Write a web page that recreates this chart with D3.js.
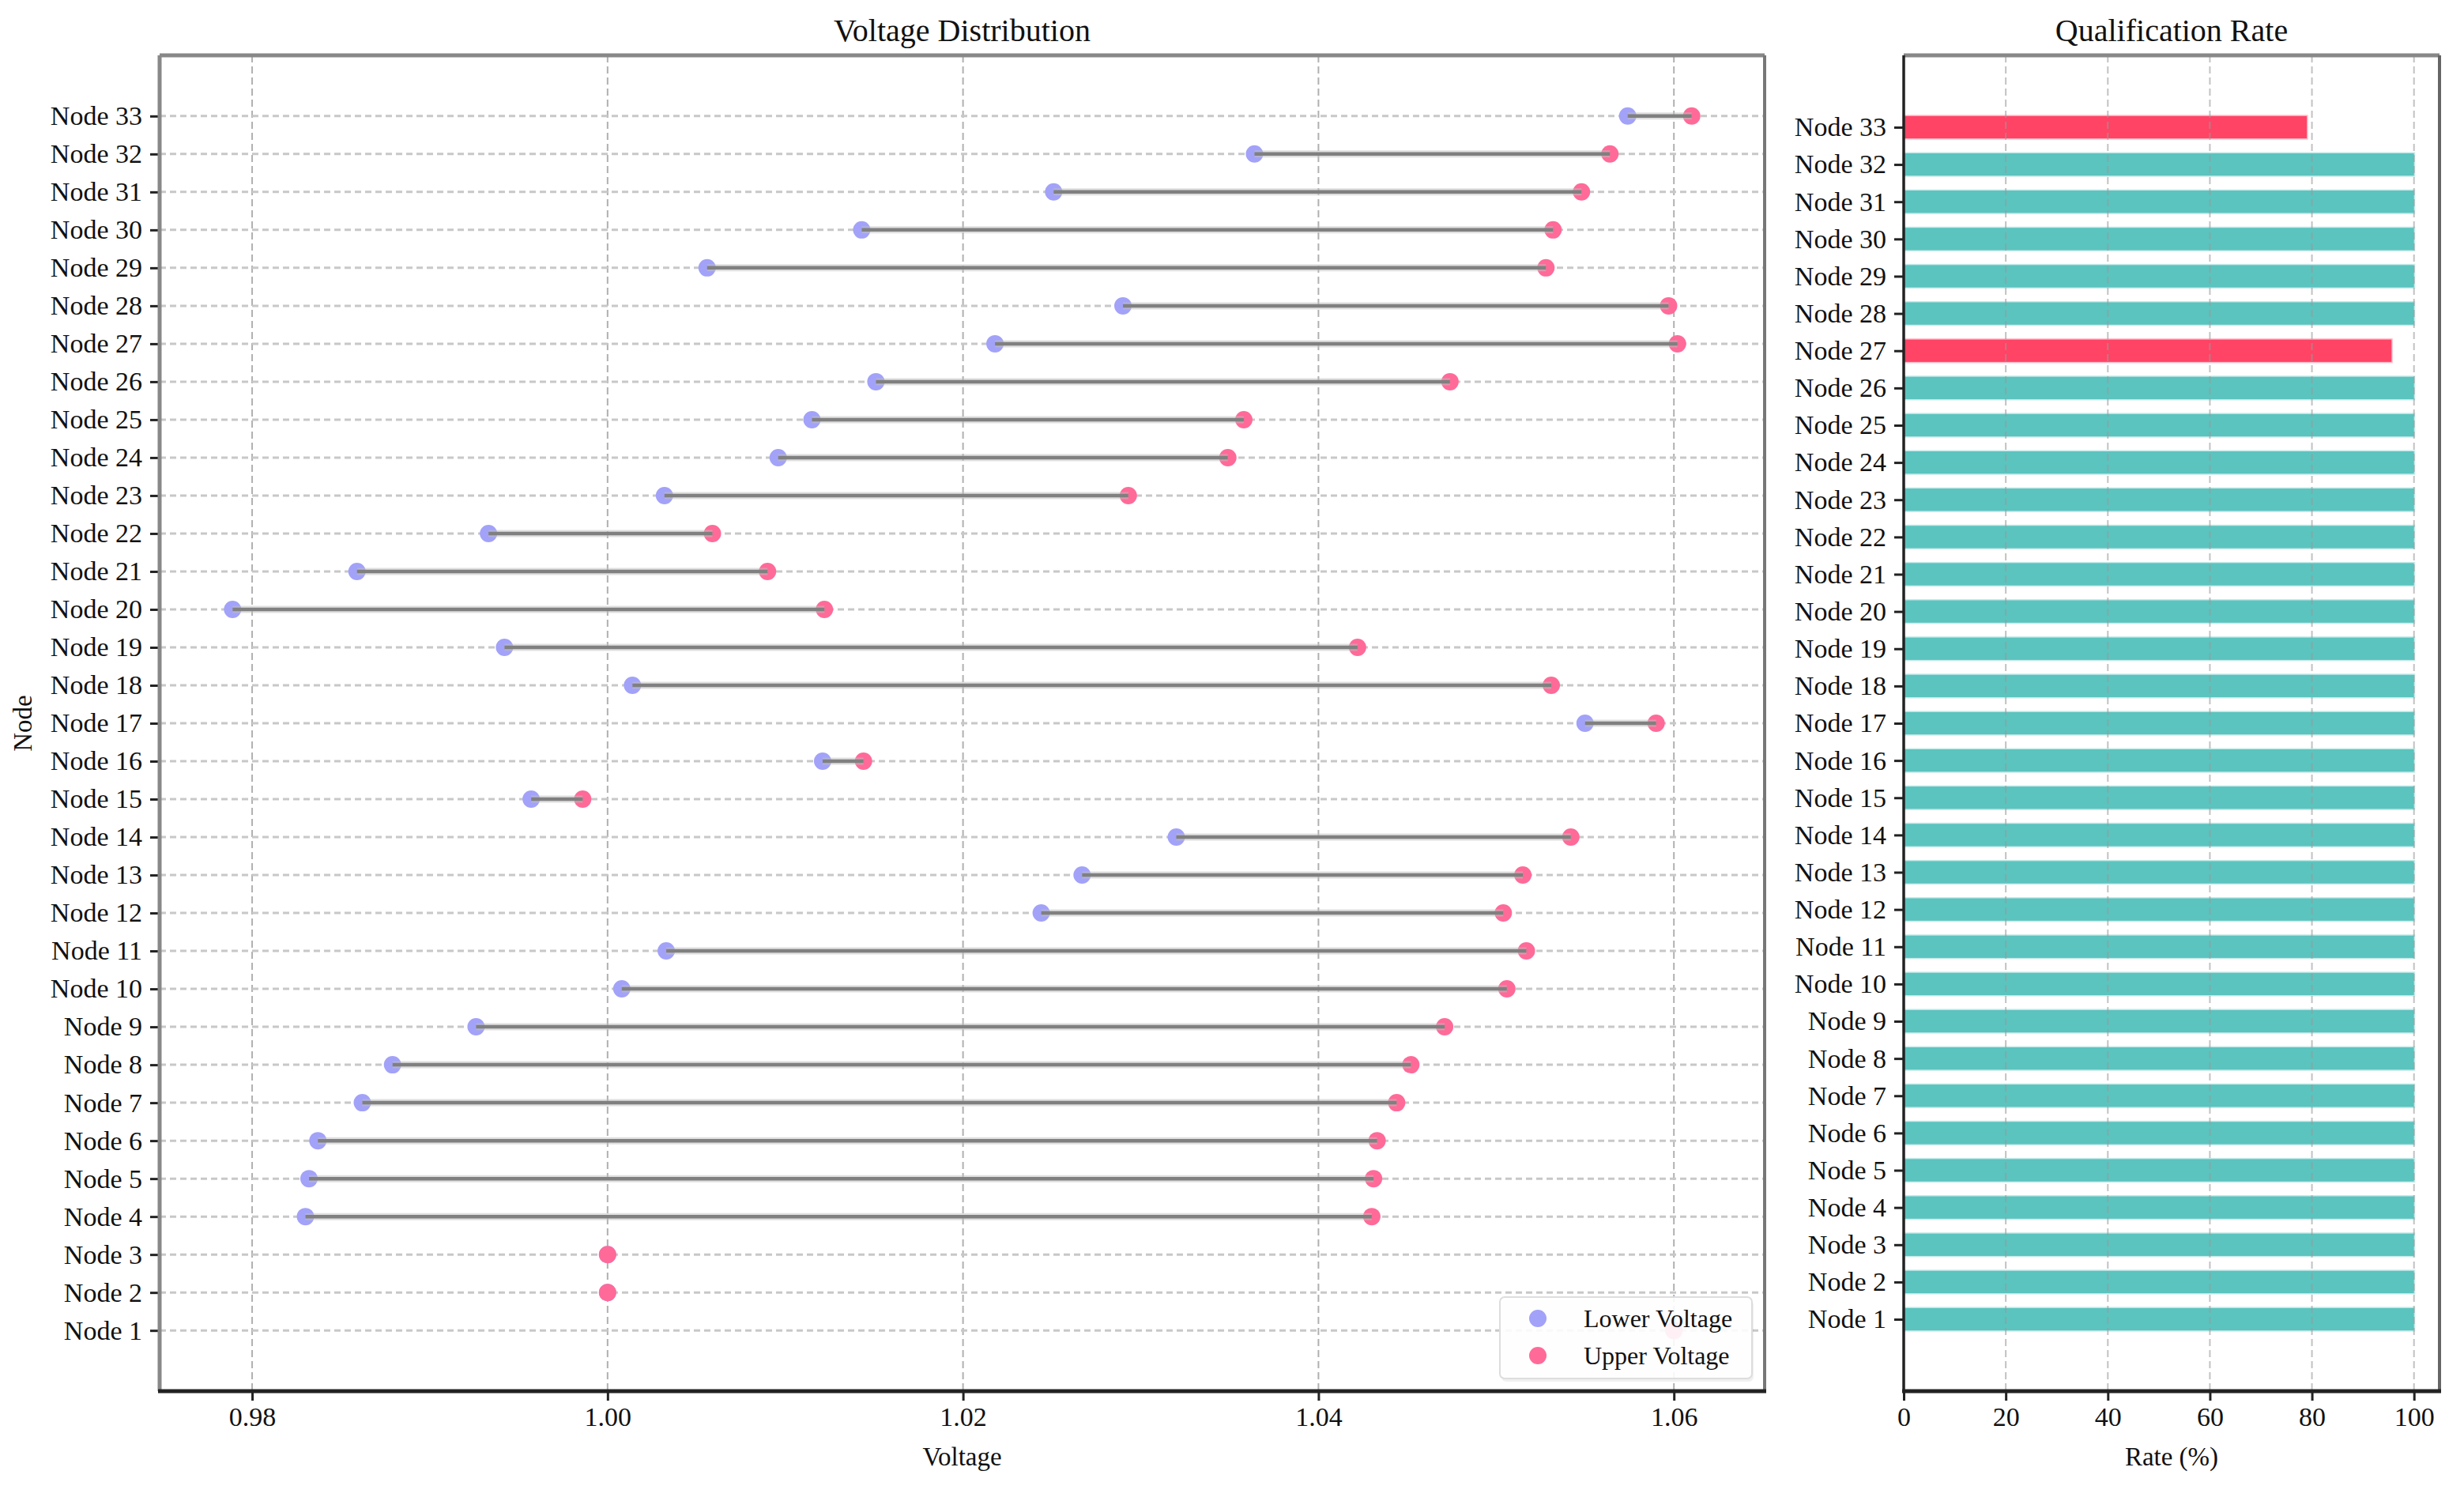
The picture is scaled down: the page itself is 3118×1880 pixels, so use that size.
<!DOCTYPE html>
<html>
<head>
<meta charset="utf-8">
<script src="https://cdn.jsdelivr.net/npm/d3@7"></script>
<style>
  body { margin: 0; background: #fff; }
  svg { display: block; font-family: "Liberation Serif", "Times New Roman", serif; }
</style>
</head>
<body>
<div id="svg-holder"></div>
<script>
var width = 3118;
var height = 1880;

var nodes = ["Node 1", "Node 2", "Node 3", "Node 4", "Node 5", "Node 6", "Node 7", "Node 8",
             "Node 9", "Node 10", "Node 11", "Node 12", "Node 13", "Node 14", "Node 15", "Node 16",
             "Node 17", "Node 18", "Node 19", "Node 20", "Node 21", "Node 22", "Node 23", "Node 24",
             "Node 25", "Node 26", "Node 27", "Node 28", "Node 29", "Node 30", "Node 31", "Node 32",
             "Node 33"];

var lowerV = [1.0600, 1.0000, 1.0000, 0.9830, 0.9832, 0.9837, 0.9862, 0.9879,
              0.9926, 1.0008, 1.0033, 1.0244, 1.0267, 1.0320, 0.9957, 1.0121,
              1.0550, 1.0014, 0.9942, 0.9789, 0.9859, 0.9933, 1.0032, 1.0096,
              1.0115, 1.0151, 1.0218, 1.0290, 1.0056, 1.0143, 1.0251, 1.0364,
              1.0574];

var upperV = [1.0600, 1.0000, 1.0000, 1.0430, 1.0431, 1.0433, 1.0444, 1.0452,
              1.0471, 1.0506, 1.0517, 1.0504, 1.0515, 1.0542, 0.9986, 1.0144,
              1.0590, 1.0531, 1.0422, 1.0122, 1.0090, 1.0059, 1.0293, 1.0349,
              1.0358, 1.0474, 1.0602, 1.0597, 1.0528, 1.0532, 1.0548, 1.0564,
              1.0610];

var rates = [100, 100, 100, 100, 100, 100, 100, 100,
             100, 100, 100, 100, 100, 100, 100, 100,
             100, 100, 100, 100, 100, 100, 100, 100,
             100, 100, 95.6, 100, 100, 100, 100, 100,
             79.0];

var voltTicks = [0.98, 1.00, 1.02, 1.04, 1.06];
var rateTicks = [0, 20, 40, 60, 80, 100];

var lowColor = "#a2a2f9";
var upColor = "#ff6a99";
var okColor = "#5bc4bf";
var badColor = "#ff4466";

var svg = d3.select('#svg-holder').append('svg')
            .attr("width", width)
            .attr("height", height);

// panel boxes
var left = { x0: 202, x1: 2233, y0: 70, y1: 1760 };
var right = { x0: 2409, x1: 3087, y0: 70, y1: 1760 };

var idx = d3.range(nodes.length);

// ---------- left panel : voltage dumbbells ----------
var allV = lowerV.concat(upperV);
var vmin = d3.min(allV), vmax = d3.max(allV);
var vpad = (vmax - vmin) * 0.05;
var x = d3.scaleLinear().domain([vmin - vpad, vmax + vpad]).range([left.x0, left.x1]);
var npad = (nodes.length - 1) * 0.05;
var y = d3.scaleLinear().domain([-npad, nodes.length - 1 + npad]).range([left.y1, left.y0]);

var gL = svg.append('g');

// grid
gL.selectAll('.vgrid').data(voltTicks).enter().append('line')
    .attr('x1', function(d) { return x(d); })
    .attr('x2', function(d) { return x(d); })
    .attr('y1', left.y0).attr('y2', left.y1)
    .attr('stroke', '#b0b0b0').attr('stroke-width', 2)
    .attr('stroke-dasharray', '9,5');

gL.selectAll('.hgrid').data(idx).enter().append('line')
    .attr('x1', left.x0).attr('x2', left.x1)
    .attr('y1', function(d) { return y(d); })
    .attr('y2', function(d) { return y(d); })
    .attr('stroke', '#c8c8c8').attr('stroke-width', 3)
    .attr('stroke-dasharray', '8,5');

// dots first, range lines drawn over them
gL.selectAll('.low').data(idx).enter().append('circle')
    .attr('cx', function(i) { return x(lowerV[i]); })
    .attr('cy', function(i) { return y(i); })
    .attr('r', 11)
    .attr('fill', lowColor);

gL.selectAll('.up').data(idx).enter().append('circle')
    .attr('cx', function(i) { return x(upperV[i]); })
    .attr('cy', function(i) { return y(i); })
    .attr('r', 11)
    .attr('fill', upColor);

gL.selectAll('.halo').data(idx).enter().append('line')
    .attr('x1', function(i) { return x(lowerV[i]); })
    .attr('x2', function(i) { return x(upperV[i]); })
    .attr('y1', function(i) { return y(i); })
    .attr('y2', function(i) { return y(i); })
    .attr('stroke', '#c0c0c0').attr('stroke-opacity', 0.5).attr('stroke-width', 9);

gL.selectAll('.range').data(idx).enter().append('line')
    .attr('x1', function(i) { return x(lowerV[i]); })
    .attr('x2', function(i) { return x(upperV[i]); })
    .attr('y1', function(i) { return y(i); })
    .attr('y2', function(i) { return y(i); })
    .attr('stroke', '#808080').attr('stroke-width', 4.5);

// axes
var xAxisL = d3.axisBottom(x).tickValues(voltTicks).tickFormat(d3.format('.2f'))
               .tickSize(12).tickPadding(8);
var yAxisL = d3.axisLeft(y).tickValues(idx).tickFormat(function(i) { return nodes[i]; })
               .tickSize(12).tickPadding(10);

var axL = gL.append('g').attr('transform', 'translate(0,' + left.y1 + ')').call(xAxisL);
var ayL = gL.append('g').attr('transform', 'translate(' + left.x0 + ',0)').call(yAxisL);

[axL, ayL].forEach(function(a) {
    a.select('.domain').remove();
    a.selectAll('.tick line').attr('stroke', '#222').attr('stroke-width', 3);
    a.selectAll('.tick text').attr('font-size', 34).attr('fill', '#111')
        .attr('font-family', '"Liberation Serif", serif');
});

// spines
gL.append('line').attr('x1', left.x0).attr('x2', left.x0).attr('y1', left.y0).attr('y2', left.y1)
    .attr('stroke', '#888').attr('stroke-width', 5);
gL.append('line').attr('x1', left.x0).attr('x2', left.x1).attr('y1', left.y0).attr('y2', left.y0)
    .attr('stroke', '#888').attr('stroke-width', 5);
gL.append('line').attr('x1', left.x1).attr('x2', left.x1).attr('y1', left.y0).attr('y2', left.y1)
    .attr('stroke', '#777').attr('stroke-width', 4);
gL.append('line').attr('x1', left.x0 - 2).attr('x2', left.x1 + 2).attr('y1', left.y1).attr('y2', left.y1)
    .attr('stroke', '#222').attr('stroke-width', 5);

// labels
gL.append('text').attr('x', (left.x0 + left.x1) / 2).attr('y', 52)
    .attr('text-anchor', 'middle').attr('font-size', 40).attr('fill', '#111')
    .text('Voltage Distribution');
gL.append('text').attr('x', (left.x0 + left.x1) / 2).attr('y', 1854)
    .attr('text-anchor', 'middle').attr('font-size', 33).attr('fill', '#111')
    .text('Voltage');
gL.append('text')
    .attr('transform', 'translate(40,' + ((left.y0 + left.y1) / 2) + ') rotate(-90)')
    .attr('text-anchor', 'middle').attr('font-size', 33).attr('fill', '#111')
    .text('Node');

// legend
var leg = gL.append('g').attr('transform', 'translate(1898,1641)');
leg.append('rect').attr('x', 2).attr('y', 4).attr('width', 319).attr('height', 103).attr('rx', 6)
    .attr('fill', '#000').attr('fill-opacity', 0.06);
leg.append('rect').attr('width', 319).attr('height', 103).attr('rx', 6)
    .attr('fill', '#fff').attr('fill-opacity', 0.9)
    .attr('stroke', '#ddd').attr('stroke-width', 2);
var legItems = [{ label: 'Lower Voltage', color: lowColor },
                { label: 'Upper Voltage', color: upColor }];
var li = leg.selectAll('.li').data(legItems).enter().append('g')
    .attr('transform', function(d, i) { return 'translate(0,' + (27 + i * 47) + ')'; });
li.append('circle').attr('cx', 48).attr('cy', 0).attr('r', 11)
    .attr('fill', function(d) { return d.color; });
li.append('text').attr('x', 106).attr('y', 11).attr('font-size', 32).attr('fill', '#111')
    .text(function(d) { return d.label; });

// ---------- right panel : qualification rate ----------
var barH = 0.6;
var bpad = (nodes.length - 1 + barH) * 0.05;
var xr = d3.scaleLinear().domain([0, d3.max(rates) * 1.05]).range([right.x0, right.x1]);
var yr = d3.scaleLinear().domain([-barH / 2 - bpad, nodes.length - 1 + barH / 2 + bpad])
           .range([right.y1, right.y0]);

var gR = svg.append('g');

gR.selectAll('.bar').data(idx).enter().append('rect')
    .attr('x', xr(0))
    .attr('y', function(i) { return yr(i + barH / 2); })
    .attr('width', function(i) { return xr(rates[i]) - xr(0); })
    .attr('height', function(i) { return yr(i - barH / 2) - yr(i + barH / 2); })
    .attr('fill', function(i) { return rates[i] < 100 ? badColor : okColor; })
    .attr('stroke', function(i) { return rates[i] < 100 ? badColor : okColor; })
    .attr('stroke-opacity', 0.35).attr('stroke-width', 3);

// grid sits over the bars, faintly
gR.selectAll('.vgrid').data(rateTicks).enter().append('line')
    .attr('x1', function(d) { return xr(d); })
    .attr('x2', function(d) { return xr(d); })
    .attr('y1', right.y0).attr('y2', right.y1)
    .attr('stroke', '#999').attr('stroke-opacity', 0.6).attr('stroke-width', 2)
    .attr('stroke-dasharray', '9,5');

var xAxisR = d3.axisBottom(xr).tickValues(rateTicks).tickSize(12).tickPadding(8);
var yAxisR = d3.axisLeft(yr).tickValues(idx).tickFormat(function(i) { return nodes[i]; })
               .tickSize(12).tickPadding(10);

var axR = gR.append('g').attr('transform', 'translate(0,' + right.y1 + ')').call(xAxisR);
var ayR = gR.append('g').attr('transform', 'translate(' + right.x0 + ',0)').call(yAxisR);

[axR, ayR].forEach(function(a) {
    a.select('.domain').remove();
    a.selectAll('.tick line').attr('stroke', '#222').attr('stroke-width', 3);
    a.selectAll('.tick text').attr('font-size', 34).attr('fill', '#111')
        .attr('font-family', '"Liberation Serif", serif');
});

gR.append('line').attr('x1', right.x0).attr('x2', right.x1).attr('y1', right.y0).attr('y2', right.y0)
    .attr('stroke', '#888').attr('stroke-width', 5);
gR.append('line').attr('x1', right.x1).attr('x2', right.x1).attr('y1', right.y0).attr('y2', right.y1)
    .attr('stroke', '#666').attr('stroke-width', 4);
gR.append('line').attr('x1', right.x0).attr('x2', right.x0).attr('y1', right.y0).attr('y2', right.y1)
    .attr('stroke', '#222').attr('stroke-width', 3.5);
gR.append('line').attr('x1', right.x0 - 2).attr('x2', right.x1 + 2).attr('y1', right.y1).attr('y2', right.y1)
    .attr('stroke', '#222').attr('stroke-width', 5);

gR.append('text').attr('x', (right.x0 + right.x1) / 2).attr('y', 52)
    .attr('text-anchor', 'middle').attr('font-size', 40).attr('fill', '#111')
    .text('Qualification Rate');
gR.append('text').attr('x', (right.x0 + right.x1) / 2).attr('y', 1854)
    .attr('text-anchor', 'middle').attr('font-size', 33).attr('fill', '#111')
    .text('Rate (%)');
</script>
</body>
</html>
